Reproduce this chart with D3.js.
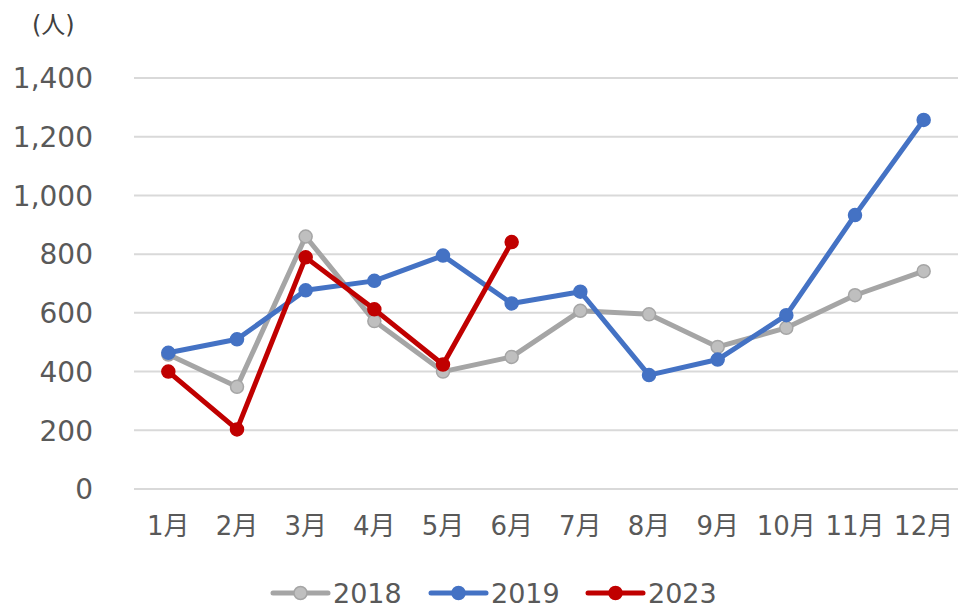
<!DOCTYPE html>
<html>
<head>
<meta charset="utf-8">
<script src="https://cdnjs.cloudflare.com/ajax/libs/d3/7.8.5/d3.min.js"></script>
<style>
  body { margin: 0; background: #fff; }
  text { font-family: "DejaVu Sans", "Noto Sans CJK JP", sans-serif; fill: #595959; }
</style>
</head>
<body>
<script>
// monthly visitors
var months = ['1月', '2月', '3月', '4月', '5月', '6月', '7月', '8月', '9月', '10月', '11月', '12月'];
var yTicks = [0, 200, 400, 600, 800, 1000, 1200, 1400];
var v2018 = [458, 348, 860, 572, 400, 450, 607, 595, 484, 549, 660, 742];
var v2019 = [464, 510, 677, 709, 795, 632, 672, 388, 441, 592, 933, 1257];
var v2023 = [400, 203, 789, 612, 424, 841];

var series = [
  {name: '2018', values: v2018, color: '#A5A5A5', fill: '#BFBFBF'},
  {name: '2019', values: v2019, color: '#4472C4', fill: '#4472C4'},
  {name: '2023', values: v2023, color: '#C00000', fill: '#C00000'}
];

var width = 958, height = 610;
var plotLeft = 134, plotRight = 958, plotTop = 78, plotBottom = 489;

var svg = d3.select('body').append('svg')
  .attr('width', width)
  .attr('height', height);

var x = d3.scaleBand().domain(months).range([plotLeft, plotRight]);
var y = d3.scaleLinear().domain([0, 1400]).range([plotBottom, plotTop]);

// gridlines
svg.append('g').selectAll('line')
  .data(yTicks)
  .enter().append('line')
    .attr('x1', plotLeft).attr('x2', plotRight)
    .attr('y1', function(d) { return y(d); })
    .attr('y2', function(d) { return y(d); })
    .style('stroke', '#D9D9D9')
    .style('stroke-width', 2);

// y axis labels
var yAxis = svg.append('g')
  .attr('transform', 'translate(' + (plotLeft - 41) + ',0)')
  .call(d3.axisLeft(y).tickValues(yTicks).tickSize(0).tickPadding(0).tickFormat(d3.format(',')));
yAxis.select('.domain').remove();
yAxis.selectAll('text').style('font-size', '28px').attr('dy', '0.35em');

// x axis labels
var xAxis = svg.append('g')
  .attr('transform', 'translate(0,' + (plotBottom + 23) + ')')
  .call(d3.axisBottom(x).tickSize(0).tickPadding(0));
xAxis.select('.domain').remove();
xAxis.selectAll('text').style('font-size', '26px').attr('dy', '0.9em');

// unit
svg.append('text')
  .attr('x', 32).attr('y', 33)
  .style('font-size', '24px')
  .style('fill', '#404040')
  .text('(人)');

var line = d3.line()
  .x(function(d, i) { return x(months[i]) + x.bandwidth() / 2; })
  .y(function(d) { return y(d); });

series.forEach(function(s) {
  svg.append('path')
    .datum(s.values)
    .attr('d', line)
    .style('fill', 'none')
    .style('stroke', s.color)
    .style('stroke-width', 5)
    .style('stroke-linejoin', 'round');

  svg.append('g').selectAll('circle')
    .data(s.values)
    .enter().append('circle')
      .attr('cx', function(d, i) { return x(months[i]) + x.bandwidth() / 2; })
      .attr('cy', function(d) { return y(d); })
      .attr('r', 6.5)
      .style('fill', s.fill)
      .style('stroke', s.color)
      .style('stroke-width', 1.5);
});

// legend
var legendX = [273, 431, 588];
var legend = svg.append('g').selectAll('g')
  .data(series)
  .enter().append('g')
    .attr('transform', function(d, i) { return 'translate(' + legendX[i] + ',593)'; });

legend.append('line')
  .attr('x1', 0).attr('x2', 55)
  .style('stroke', function(d) { return d.color; })
  .style('stroke-width', 5)
  .style('stroke-linecap', 'round');
legend.append('circle')
  .attr('cx', 27.5).attr('r', 6.5)
  .style('fill', function(d) { return d.fill; })
  .style('stroke', function(d) { return d.color; })
  .style('stroke-width', 1.5);
legend.append('text')
  .attr('x', 60).attr('dy', '0.36em')
  .style('font-size', '27px')
  .text(function(d) { return d.name; });
</script>
</body>
</html>
